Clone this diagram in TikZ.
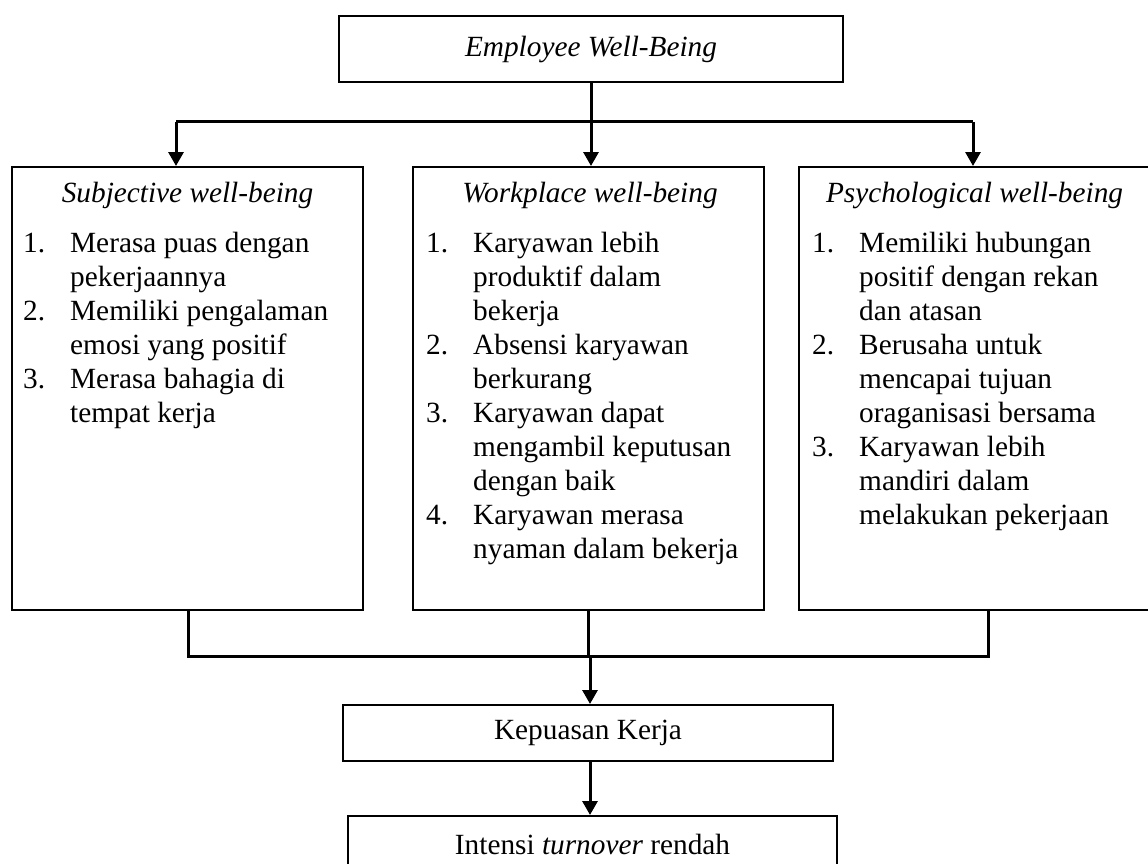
\documentclass[tikz,border=0pt]{standalone}
\usepackage{fontspec}
\setmainfont{Liberation Serif}
\usetikzlibrary{arrows.meta}
\tikzset{
  box/.style={draw, line width=2pt, inner sep=0pt, font=\fontsize{29.3}{34}\selectfont},
  conn/.style={line width=3pt},
  arr/.style={line width=3pt, -{Triangle[length=14pt,width=15pt]}},
  lst/.style={anchor=base west, inner sep=0pt, font=\fontsize{29.3}{34}\selectfont},
  ttl/.style={anchor=base, inner sep=0pt, font=\fontsize{29.3}{34}\selectfont\itshape}
}
\begin{document}
\begin{tikzpicture}[x=1pt,y=-1pt]
\useasboundingbox (0,0) rectangle (1148,864);
\clip (0,0) rectangle (1148,864);
% boxes
\node[box, minimum width=504pt, minimum height=66pt] (top) at (591,49) {\textit{Employee Well-Being}};
\node[box, minimum width=351pt, minimum height=443pt] (L) at (187.5,388.5) {};
\node[box, minimum width=351pt, minimum height=443pt] (M) at (588.5,388.5) {};
\node[box, minimum width=351pt, minimum height=443pt] (R) at (974.5,388.5) {};
\node[box, minimum width=490pt, minimum height=56pt] (K) at (588,733) {Kepuasan Kerja};
\node[box, minimum width=489pt, minimum height=56pt] (I) at (592.5,844) {Intensi \textit{turnover} rendah};
% titles
\node[ttl] (Lt) at (187.5,202) {Subjective well-being};
\node[ttl] (Mt) at (590,202) {Workplace well-being};
\node[ttl] (Rt) at (974.5,202) {Psychological well-being};
% lists
\node[lst] (Ll) at (23,252) {\begin{tabular}[t]{@{}p{47pt}@{}l@{}}
1. & Merasa puas dengan\\
   & pekerjaannya\\
2. & Memiliki pengalaman\\
   & emosi yang positif\\
3. & Merasa bahagia di\\
   & tempat kerja
\end{tabular}};
\node[lst] (Ml) at (426,252) {\begin{tabular}[t]{@{}p{47pt}@{}l@{}}
1. & Karyawan lebih\\
   & produktif dalam\\
   & bekerja\\
2. & Absensi karyawan\\
   & berkurang\\
3. & Karyawan dapat\\
   & mengambil keputusan\\
   & dengan baik\\
4. & Karyawan merasa\\
   & nyaman dalam bekerja
\end{tabular}};
\node[lst] (Rl) at (812,252) {\begin{tabular}[t]{@{}p{47pt}@{}l@{}}
1. & Memiliki hubungan\\
   & positif dengan rekan\\
   & dan atasan\\
2. & Berusaha untuk\\
   & mencapai tujuan\\
   & oraganisasi bersama\\
3. & Karyawan lebih\\
   & mandiri dalam\\
   & melakukan pekerjaan
\end{tabular}};
% top connectors
\coordinate (hl) at (176,122);
\coordinate (hr) at (973,122);
\draw[conn] (hl) -- (hr);
\draw[conn] (top.south) -- (top.south |- hl);
\draw[arr] (hl) -- (hl |- L.north);
\draw[arr] (top.south |- hl) -- (top.south |- M.north);
\draw[arr] (hr) -- (hr |- R.north);
% bottom connectors
\coordinate (bl) at (188,656);
\coordinate (br) at (988,656);
\coordinate (kc) at (590,0);
\draw[conn] (bl |- L.south) -- (bl) -- (br) -- (br |- R.south);
\draw[conn] (M.south) -- (M.south |- bl);
\draw[arr] (kc |- bl) -- (kc |- K.north);
\draw[arr] (kc |- K.south) -- (kc |- I.north);
\end{tikzpicture}
\end{document}
